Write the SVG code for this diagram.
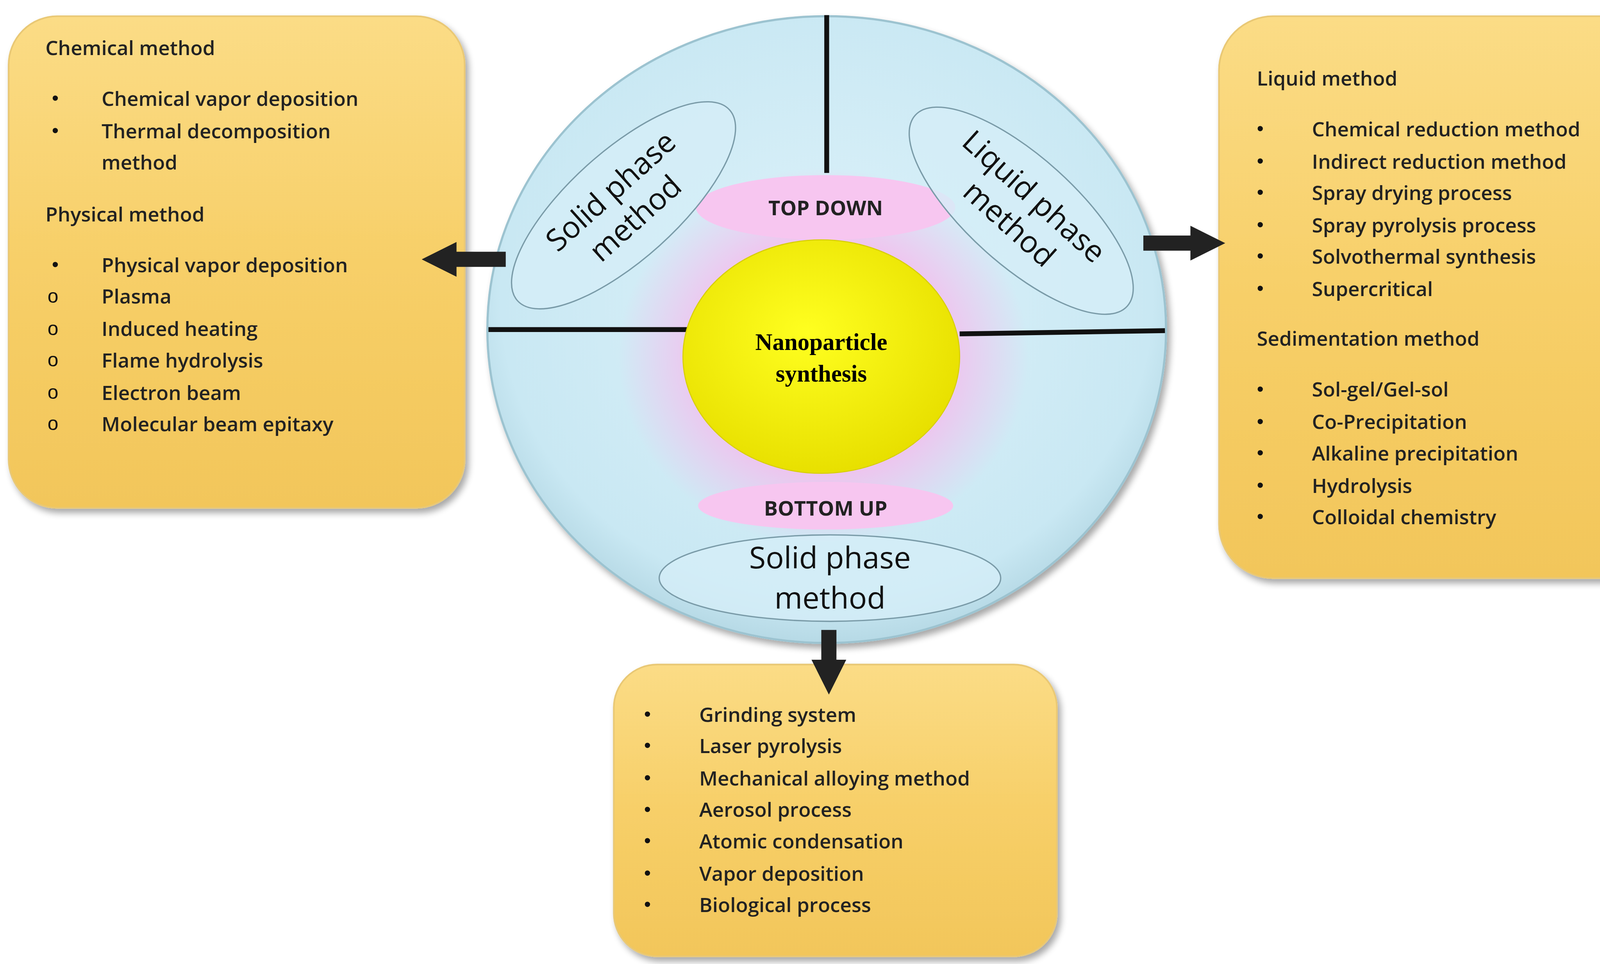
<svg xmlns="http://www.w3.org/2000/svg" width="4324" height="2468" viewBox="0 0 4324 2468">
<defs>
<linearGradient id="box" x1="0" y1="0" x2="0" y2="1"><stop offset="0" stop-color="#FBDC86"/><stop offset="0.5" stop-color="#F7CF68"/><stop offset="1" stop-color="#F2C65A"/></linearGradient>
<radialGradient id="circ" cx="0.5" cy="0.45" r="0.6"><stop offset="0" stop-color="#DDF2FA"/><stop offset="0.8" stop-color="#C9E8F3"/><stop offset="1" stop-color="#A9CFDC"/></radialGradient>
<radialGradient id="glow"><stop offset="0.5" stop-color="#F6B8EC"/><stop offset="1" stop-color="#F6B8EC" stop-opacity="0"/></radialGradient>
<radialGradient id="yel" cx="0.45" cy="0.4" r="0.6"><stop offset="0" stop-color="#FFFF20"/><stop offset="1" stop-color="#E8E000"/></radialGradient>
<filter id="sh" x="-10%" y="-10%" width="130%" height="130%"><feGaussianBlur in="SourceAlpha" stdDeviation="3"/><feOffset dx="3" dy="4"/><feComponentTransfer><feFuncA type="linear" slope="0.35"/></feComponentTransfer><feMerge><feMergeNode/><feMergeNode in="SourceGraphic"/></feMerge></filter>
<marker id="ah" viewBox="0 0 10 10" refX="2" refY="5" markerWidth="2.3" markerHeight="2.6" orient="auto-start-reverse"><path d="M0,0 L10,5 L0,10 z" fill="#222"/></marker>
</defs>
<style>
.t{font-family:"Open Sans","Liberation Sans",sans-serif;font-weight:600;font-size:18.5px;fill:#222}
.b{font-family:"Liberation Sans",sans-serif;font-size:18px;fill:#111}
.box{fill:url(#box);stroke:#E9C874;stroke-width:1.5}
.oe{fill:#D4EEF7;stroke:#7A9BA8;stroke-width:1.2;fill-opacity:0.8}
.lab{font-family:"Open Sans","Liberation Sans",sans-serif;font-size:28px;fill:#111}
.pk{font-family:"Open Sans","Liberation Sans",sans-serif;font-weight:700;font-size:19px;fill:#222}
.ln{stroke:#111;stroke-width:4.5}
</style>
<rect width="4324" height="2468" fill="#fff"/>
<g transform="scale(2.7665)">
<g id="circle">
<ellipse cx="765" cy="305" rx="314" ry="290" fill="url(#circ)" stroke="#9CC3D0" stroke-width="2" filter="url(#sh)"/>
<ellipse cx="762" cy="330" rx="190" ry="175" fill="url(#glow)"/>
<line class="ln" x1="765" y1="14" x2="765" y2="160"/>
<line class="ln" x1="452" y1="305" x2="636" y2="305"/>
<line class="ln" x1="888" y1="309" x2="1078" y2="306"/>
</g>
<g id="topdown"><ellipse cx="764" cy="192" rx="120" ry="30" fill="#F7C6F0"/><text class="pk" x="764" y="199" text-anchor="middle">TOP DOWN</text></g>
<g id="bottomup"><ellipse cx="764" cy="468" rx="118" ry="22" fill="#F7C6F0"/><text class="pk" x="764" y="477" text-anchor="middle">BOTTOM UP</text></g>
<g id="center"><ellipse cx="760" cy="330" rx="128" ry="108" fill="url(#yel)" stroke="#D8D000" stroke-width="1"/>
<text x="760" y="324" text-anchor="middle" font-family="Liberation Serif,serif" font-weight="bold" font-size="22">Nanoparticle</text>
<text x="760" y="353" text-anchor="middle" font-family="Liberation Serif,serif" font-weight="bold" font-size="22">synthesis</text></g>
<g id="solid-top" transform="rotate(-42 577 190)"><ellipse class="oe" cx="577" cy="190" rx="132" ry="50"/>
<text class="lab" x="577" y="182" text-anchor="middle">Solid phase</text><text class="lab" x="577" y="216" text-anchor="middle">method</text></g>
<g id="liquid-top" transform="rotate(42 945 195)"><ellipse class="oe" cx="945" cy="195" rx="132" ry="50"/>
<text class="lab" x="945" y="187" text-anchor="middle">Liquid phase</text><text class="lab" x="945" y="221" text-anchor="middle">method</text></g>
<g id="solid-bottom"><ellipse class="oe" cx="768" cy="535" rx="158" ry="40"/>
<text class="lab" x="768" y="526" text-anchor="middle">Solid phase</text><text class="lab" x="768" y="563" text-anchor="middle">method</text></g>
<g id="left-box"><rect class="box" x="8" y="15" width="422" height="455" rx="45" filter="url(#sh)"/>
<text class="t" x="42" y="51">Chemical method</text>
<text class="b" x="48" y="97">•</text><text class="t" x="94" y="98">Chemical vapor deposition</text>
<text class="b" x="48" y="127">•</text><text class="t" x="94" y="128">Thermal decomposition</text>
<text class="t" x="94" y="157">method</text>
<text class="t" x="42" y="205">Physical method</text>
<text class="b" x="48" y="251">•</text><text class="t" x="94" y="252">Physical vapor deposition</text>
<text class="b" x="44" y="280" font-size="15">o</text><text class="t" x="94" y="281">Plasma</text>
<text class="b" x="44" y="310" font-size="15">o</text><text class="t" x="94" y="311">Induced heating</text>
<text class="b" x="44" y="339" font-size="15">o</text><text class="t" x="94" y="340">Flame hydrolysis</text>
<text class="b" x="44" y="369" font-size="15">o</text><text class="t" x="94" y="370">Electron beam</text>
<text class="b" x="44" y="398" font-size="15">o</text><text class="t" x="94" y="399">Molecular beam epitaxy</text></g>
<g id="right-box"><rect class="box" x="1128" y="15" width="430" height="520" rx="50" filter="url(#sh)"/>
<text class="t" x="1163" y="79">Liquid method</text>
<text class="b" x="1163" y="125">•</text><text class="t" x="1214" y="126">Chemical reduction method</text>
<text class="b" x="1163" y="155">•</text><text class="t" x="1214" y="156">Indirect reduction method</text>
<text class="b" x="1163" y="184">•</text><text class="t" x="1214" y="185">Spray drying process</text>
<text class="b" x="1163" y="214">•</text><text class="t" x="1214" y="215">Spray pyrolysis process</text>
<text class="b" x="1163" y="243">•</text><text class="t" x="1214" y="244">Solvothermal synthesis</text>
<text class="b" x="1163" y="273">•</text><text class="t" x="1214" y="274">Supercritical</text>
<text class="t" x="1163" y="320">Sedimentation method</text>
<text class="b" x="1163" y="366">•</text><text class="t" x="1214" y="367">Sol-gel/Gel-sol</text>
<text class="b" x="1163" y="396">•</text><text class="t" x="1214" y="397">Co-Precipitation</text>
<text class="b" x="1163" y="425">•</text><text class="t" x="1214" y="426">Alkaline precipitation</text>
<text class="b" x="1163" y="455">•</text><text class="t" x="1214" y="456">Hydrolysis</text>
<text class="b" x="1163" y="484">•</text><text class="t" x="1214" y="485">Colloidal chemistry</text></g>
<g id="bottom-box"><rect class="box" x="568" y="615" width="410" height="270" rx="40" filter="url(#sh)"/>
<text class="b" x="596" y="667">•</text><text class="t" x="647" y="668">Grinding system</text>
<text class="b" x="596" y="696">•</text><text class="t" x="647" y="697">Laser pyrolysis</text>
<text class="b" x="596" y="726">•</text><text class="t" x="647" y="727">Mechanical alloying method</text>
<text class="b" x="596" y="755">•</text><text class="t" x="647" y="756">Aerosol process</text>
<text class="b" x="596" y="784">•</text><text class="t" x="647" y="785">Atomic condensation</text>
<text class="b" x="596" y="814">•</text><text class="t" x="647" y="815">Vapor deposition</text>
<text class="b" x="596" y="843">•</text><text class="t" x="647" y="844">Biological process</text></g>
<g id="connectors">
<line x1="468" y1="240" x2="416" y2="240" stroke="#222" stroke-width="14" marker-end="url(#ah)"/>
<line x1="1058" y1="225" x2="1108" y2="225" stroke="#222" stroke-width="14" marker-end="url(#ah)"/>
<line x1="767" y1="583" x2="767" y2="617" stroke="#222" stroke-width="14" marker-end="url(#ah)"/>
</g>
</g>
</svg>
